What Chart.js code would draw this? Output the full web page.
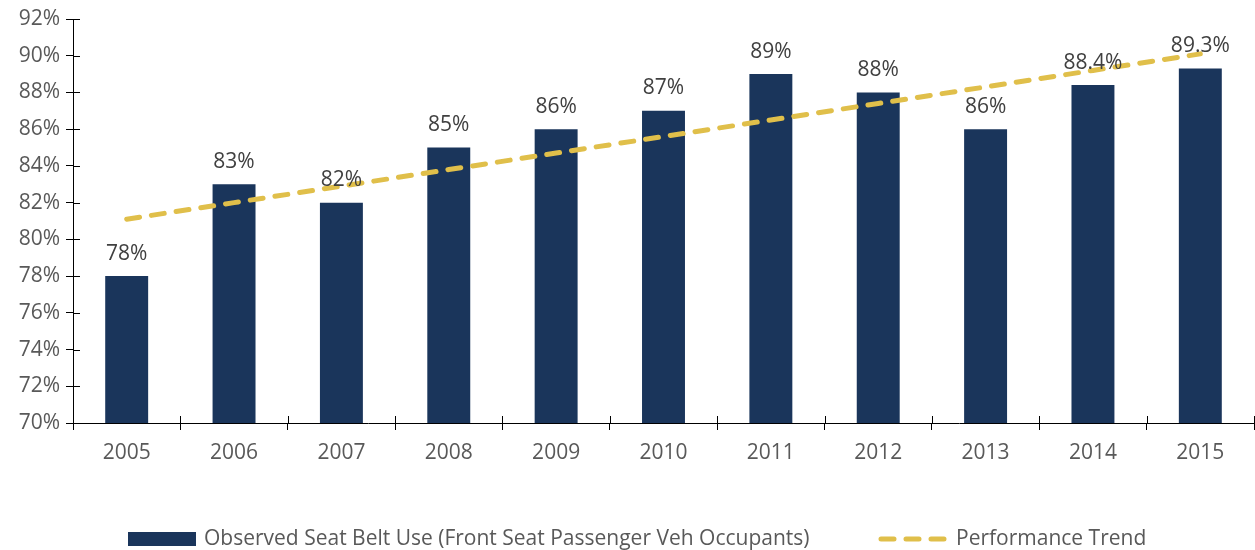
<!DOCTYPE html>
<html>
<head>
<meta charset="utf-8">
<script src="https://cdn.jsdelivr.net/npm/chart.js@4/dist/chart.umd.min.js"></script>
<style>
  html, body { margin: 0; padding: 0; background: #fff; }
  #wrap { width: 1255px; height: 550px; }
</style>
</head>
<body>
<div id="wrap"><canvas id="chart"></canvas></div>
<script>
const years = ["2005", "2006", "2007", "2008", "2009", "2010", "2011", "2012", "2013", "2014", "2015"];
const beltUse = [78, 83, 82, 85, 86, 87, 89, 88, 86, 88.4, 89.3];
const trend = [81.1, 82.0, 82.9, 83.8, 84.7, 85.6, 86.5, 87.4, 88.3, 89.2, 90.1];
const useLabels = ["78%", "83%", "82%", "85%", "86%", "87%", "89%", "88%", "86%", "88.4%", "89.3%"];

const NAVY = "#1a355b";
const GOLD = "#e0bf4a";
const FONT = "'Open Sans', sans-serif";

// value labels above the bars
const barLabels = {
  id: "barLabels",
  afterDatasetsDraw(chart) {
    const ctx = chart.ctx;
    const meta = chart.getDatasetMeta(0);
    ctx.save();
    ctx.font = "21px " + FONT;
    ctx.fillStyle = "#404040";
    ctx.textAlign = "center";
    ctx.textBaseline = "bottom";
    meta.data.forEach((bar, i) => {
      ctx.fillText(useLabels[i], bar.x, bar.y - 12);
    });
    ctx.restore();
  }
};

// tick marks that cross the axes, like the original
const crossTicks = {
  id: "crossTicks",
  afterDraw(chart) {
    const ctx = chart.ctx;
    const x = chart.scales.x, y = chart.scales.y;
    ctx.save();
    ctx.strokeStyle = "#000";
    ctx.lineWidth = 1;
    ctx.beginPath();
    y.ticks.forEach((t, i) => {
      const py = Math.round(y.getPixelForTick(i)) + 0.5;
      ctx.moveTo(x.left, py);
      ctx.lineTo(x.left + 7, py);
    });
    for (let i = 0; i <= years.length; i++) {
      const px = Math.round(x.left + (x.right - x.left) * i / years.length) + 0.5;
      ctx.moveTo(px, y.bottom);
      ctx.lineTo(px, y.bottom - 7);
    }
    ctx.stroke();
    ctx.restore();
  }
};

// legend drawn at the bottom
const bottomLegend = {
  id: "bottomLegend",
  afterDraw(chart) {
    const ctx = chart.ctx;
    const cy = 539;
    ctx.save();
    ctx.fillStyle = NAVY;
    ctx.fillRect(128, 532, 68, 14);
    ctx.font = "21px " + FONT;
    ctx.fillStyle = "#595959";
    ctx.textBaseline = "middle";
    ctx.fillText("Observed Seat Belt Use (Front Seat Passenger Veh Occupants)", 204, cy);
    ctx.strokeStyle = GOLD;
    ctx.lineWidth = 5;
    ctx.lineCap = "round";
    ctx.setLineDash([13, 12]);
    ctx.beginPath();
    ctx.moveTo(881, cy);
    ctx.lineTo(944, cy);
    ctx.stroke();
    ctx.setLineDash([]);
    ctx.fillText("Performance Trend", 956, cy);
    ctx.restore();
  }
};

const ctx = document.getElementById("chart").getContext("2d");

new Chart(ctx, {
  type: "bar",
  data: {
    labels: years,
    datasets: [
      {
        label: "Observed Seat Belt Use (Front Seat Passenger Veh Occupants)",
        data: beltUse,
        backgroundColor: NAVY,
        barPercentage: 0.4,
        categoryPercentage: 1,
        order: 2
      },
      {
        type: "line",
        label: "Performance Trend",
        data: trend,
        borderColor: GOLD,
        borderWidth: 5,
        borderDash: [13, 12],
        borderCapStyle: "round",
        pointRadius: 0,
        fill: false,
        tension: 0,
        order: 1
      }
    ]
  },
  options: {
    responsive: true,
    maintainAspectRatio: false,
    animation: false,
    layout: { padding: { top: 19, right: 1, left: 0, bottom: 0 } },
    plugins: {
      legend: { display: false },
      tooltip: { enabled: false }
    },
    scales: {
      x: {
        grid: { display: true, drawOnChartArea: false, offset: true, color: "#000", tickLength: 7 },
        border: { color: "#000", width: 1 },
        ticks: { color: "#595959", font: { family: FONT, size: 21 }, padding: 10 },
        afterFit: s => { s.height = 127; }
      },
      y: {
        min: 70,
        max: 92,
        grid: { display: true, drawOnChartArea: false, color: "#000", tickLength: 7 },
        border: { color: "#000", width: 1 },
        ticks: {
          stepSize: 2,
          color: "#595959",
          font: { family: FONT, size: 21 },
          padding: 6,
          callback: v => v + "%"
        },
        afterFit: s => { s.width = 73; }
      }
    }
  },
  plugins: [barLabels, crossTicks, bottomLegend]
});
</script>
</body>
</html>
